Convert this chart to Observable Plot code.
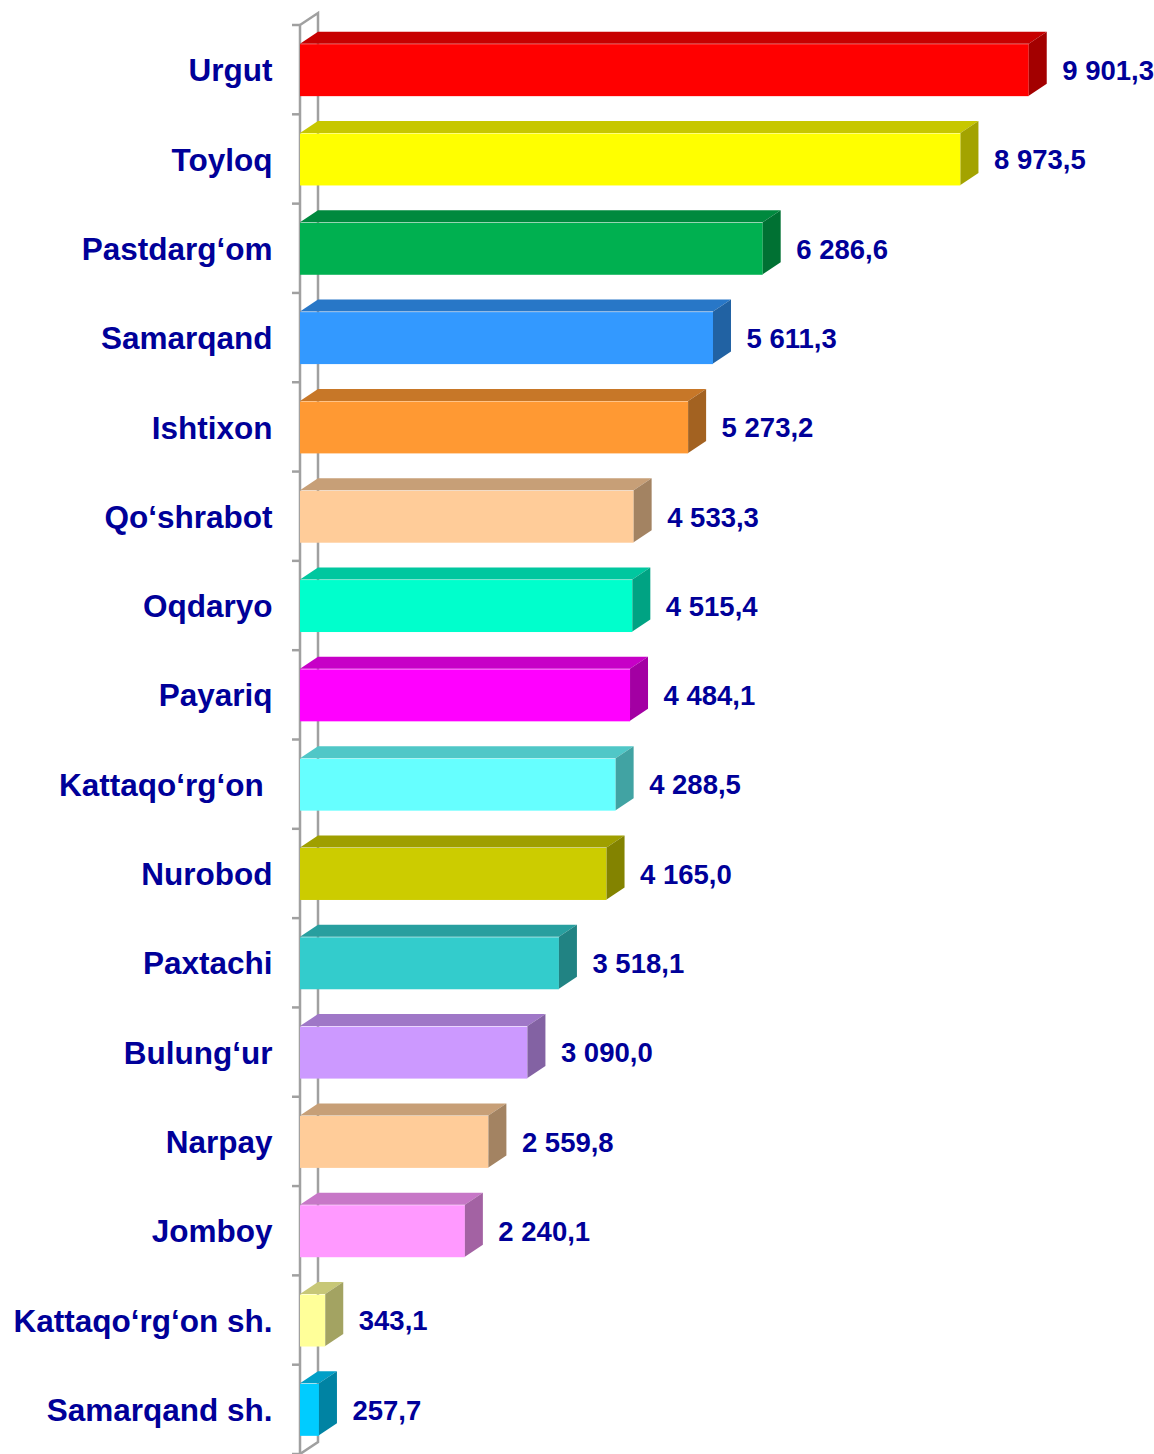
<!DOCTYPE html>
<html>
<head>
<meta charset="utf-8">
<script src="https://cdn.jsdelivr.net/npm/d3@7"></script>
<script src="https://cdn.jsdelivr.net/npm/@observablehq/plot@0.6"></script>
<style>
  body { margin: 0; background: #fff; }
  svg text { white-space: pre; }
</style>
</head>
<body>
<div id="chart"></div>
<script>
// ---- data ----
const districts = [
  "Urgut", "Toyloq", "Pastdarg‘om", "Samarqand", "Ishtixon", "Qo‘shrabot",
  "Oqdaryo", "Payariq", "Kattaqo‘rg‘on ", "Nurobod", "Paxtachi", "Bulung‘ur",
  "Narpay", "Jomboy", "Kattaqo‘rg‘on sh.", "Samarqand sh."
];
const values = [
  9901.3, 8973.5, 6286.6, 5611.3, 5273.2, 4533.3,
  4515.4, 4484.1, 4288.5, 4165.0, 3518.1, 3090.0,
  2559.8, 2240.1, 343.1, 257.7
];
const palette = [
  "#ff0000", "#ffff00", "#00b050", "#3399ff", "#ff9933", "#ffcc99",
  "#00ffcc", "#ff00ff", "#66ffff", "#cccc00", "#33cccc", "#cc99ff",
  "#ffcc99", "#ff99ff", "#ffff99", "#00ccff"
];

const data = districts.map((name, i) => ({name, value: values[i]}));

const fmt = d3.formatLocale({decimal: ",", thousands: " ", grouping: [3], currency: ["", ""]}).format(",.1f");

const DX = 18, DY = 12;          // 3D depth offsets
const FACE = 0.582;              // front face height as share of band
const textColor = "#000099";
const wallColor = "#a0a0a0";

function shade(c, k) {
  const r = d3.rgb(c);
  return d3.rgb(r.r * k, r.g * k, r.b * k).formatHex();
}

// wall (axis) drawn through the scales
function wall(index, scales) {
  const {x, y} = scales;
  const g = d3.create("svg:g").attr("fill", "none").attr("stroke", wallColor).attr("stroke-width", 2.5);
  const x0 = x(0);
  const dom = y.domain();
  const top = y(dom[0]);
  const bottom = y(dom[dom.length - 1]) + y.bandwidth();
  g.append("path").attr("d", `M${x0},${top}L${x0 + DX},${top - DY}L${x0 + DX},${bottom - DY}L${x0},${bottom}Z`);
  const bounds = dom.map(n => y(n)).concat([bottom]);
  for (const b of bounds) {
    g.append("line").attr("x1", x0 - 8).attr("x2", x0).attr("y1", b).attr("y2", b);
  }
  return g.node();
}

// top and side faces of the boxes
function faces(index, scales) {
  const {x, y, color} = scales;
  const bw = y.bandwidth();
  const inset = bw * (1 - FACE) / 2;
  const g = d3.create("svg:g");
  for (const d of data) {
    const x0 = x(0), x1 = x(d.value);
    const yt = y(d.name) + inset, yb = y(d.name) + bw - inset;
    const c = color(d.name);
    g.append("path")
      .attr("fill", shade(c, 0.78))
      .attr("d", `M${x0},${yt}L${x0 + DX},${yt - DY}L${x1 + DX},${yt - DY}L${x1},${yt}Z`);
    g.append("path")
      .attr("fill", shade(c, 0.64))
      .attr("d", `M${x1},${yt}L${x1 + DX},${yt - DY}L${x1 + DX},${yb - DY}L${x1},${yb}Z`);
  }
  return g.node();
}

const chart = Plot.plot({
  width: 1154,
  height: 1454,
  marginLeft: 300,
  marginRight: 118,
  marginTop: 25,
  marginBottom: 0,
  style: {fontFamily: "'Liberation Sans', Arial, sans-serif", background: "#fff", overflow: "visible"},
  x: {domain: [0, 10000], axis: null},
  y: {domain: districts, padding: 0, round: false, label: null},
  color: {type: "ordinal", domain: districts, range: palette},
  marks: [
    wall,
    Plot.barX(data, {
      x: "value", y: "name", fill: "name",
      insetTop: 89.3 * (1 - FACE) / 2 + 0.5, insetBottom: 89.3 * (1 - FACE) / 2 - 0.5
    }),
    faces,
    Plot.axisY({
      tickSize: 0, tickPadding: 28, fontSize: 31.5, fontWeight: "bold",
      color: textColor, label: null, dy: 1
    }),
    Plot.text(data, {
      x: "value", y: "name", text: d => fmt(d.value),
      dx: 33, dy: 1, textAnchor: "start", fontSize: 27.5, fontWeight: "bold", fill: textColor
    })
  ]
});

document.getElementById("chart").appendChild(chart);
</script>
</body>
</html>
